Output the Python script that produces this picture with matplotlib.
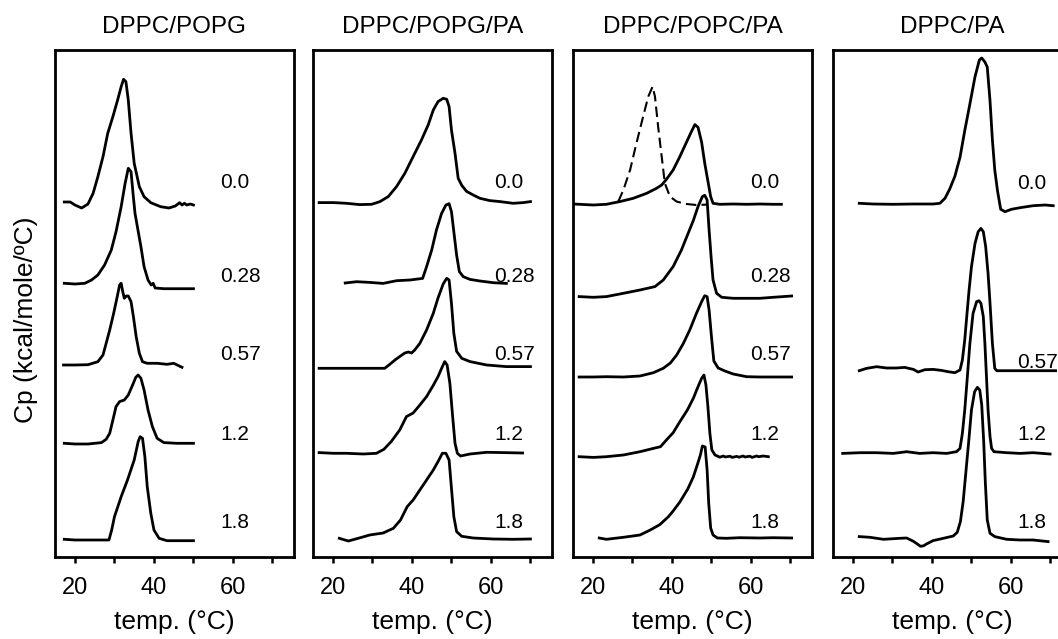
import matplotlib
matplotlib.use("Agg")
import matplotlib.pyplot as plt

plt.rcParams["font.family"] = ["Liberation Sans", "DejaVu Sans"]

TITLES = ["DPPC/POPG", "DPPC/POPG/PA", "DPPC/POPC/PA", "DPPC/PA"]
COMPOSITIONS = ["0.0", "0.28", "0.57", "1.2", "1.8"]
COMPOSITIONS_PA = ["0.0", "0.57", "1.2", "1.8"]

# ---- DPPC/POPG ----
popg_t_00 = [17.3, 18.8, 20.0, 21.7, 23.3, 24.6, 25.8, 27.1, 28.3, 29.6, 30.8, 31.7, 32.3, 32.9, 33.5,
             34.2, 35.0, 36.3, 37.5, 39.2, 41.7, 43.8, 45.4, 46.5, 47.1, 47.7, 48.3, 49.2, 50.0]
popg_cp_00 = [0.3, 0.3, 0.0, -0.3, 0.1, 1.17, 2.83, 4.83, 7.17, 8.83, 10.5, 11.83, 12.57, 12.33, 10.5,
              7.17, 4.17, 1.83, 0.83, 0.23, -0.17, -0.3, -0.1, 0.23, 0.0, 0.17, 0.0, 0.1, 0.0]
popg_t_028 = [17.3, 20.0, 22.5, 24.2, 25.8, 27.5, 29.2, 30.4, 31.7, 32.7, 33.5, 34.2, 34.7, 35.2, 35.8,
              36.7, 37.5, 38.5, 39.3, 39.8, 40.3, 42.5, 46.7, 50.0]
popg_cp_028 = [0.47, 0.4, 0.47, 0.8, 1.3, 2.3, 3.8, 5.63, 8.13, 10.47, 11.97, 11.63, 9.47, 7.47, 6.13,
               4.13, 2.13, 0.8, 0.3, 0.47, 0.0, -0.07, -0.07, -0.07]
popg_t_057 = [17.1, 20.0, 23.3, 25.8, 27.1, 27.9, 28.8, 29.8, 30.7, 31.3, 31.7, 32.1, 32.5, 33.0, 33.5,
              34.2, 34.8, 35.5, 36.3, 37.1, 38.3, 40.8, 43.3, 45.0, 47.1]
popg_cp_057 = [-0.1, -0.1, -0.07, 0.23, 0.9, 2.07, 3.4, 5.07, 6.73, 7.9, 8.07, 7.23, 6.57, 6.8, 6.8,
               6.23, 4.73, 2.73, 1.07, 0.23, 0.07, 0.07, -0.03, 0.07, -0.33]
popg_t_12 = [17.3, 20.0, 23.3, 26.7, 27.9, 28.8, 29.6, 30.4, 31.3, 32.5, 33.5, 34.6, 35.4, 36.0, 36.7,
             37.5, 38.5, 39.6, 40.8, 42.5, 45.8, 50.0]
popg_cp_12 = [0.0, -0.07, -0.07, 0.07, 0.4, 1.0, 2.33, 3.67, 4.17, 4.33, 4.83, 5.83, 6.6, 6.83, 6.5,
              5.33, 3.33, 1.67, 0.5, 0.07, 0.0, 0.0]
popg_t_18 = [17.3, 20.0, 23.3, 26.7, 28.6, 29.3, 30.0, 31.7, 33.3, 35.0, 36.0, 36.5, 37.1, 37.7, 38.3,
             39.2, 40.0, 41.3, 43.3, 50.0]
popg_cp_18 = [0.07, 0.0, 0.0, 0.0, 0.0, 1.0, 2.33, 4.33, 6.0, 8.0, 9.83, 10.33, 10.17, 8.33, 5.33,
              2.67, 1.0, 0.17, -0.07, -0.07]

# ---- DPPC/POPG/PA ----
pgpa_t_00 = [16.5, 20.1, 23.4, 26.8, 29.8, 31.9, 34.0, 36.1, 38.2, 40.3, 42.4, 44.1, 45.4, 46.6, 47.9,
             48.8, 49.4, 50.0, 50.9, 51.7, 52.6, 53.8, 55.5, 57.2, 59.7, 62.3, 65.6, 68.2, 70.0]
pgpa_cp_00 = [0.07, 0.07, 0.0, -0.13, -0.1, 0.17, 0.67, 1.67, 3.0, 4.67, 6.33, 7.83, 9.33, 10.17, 10.5,
              10.4, 9.67, 7.33, 5.0, 2.5, 1.8, 1.2, 0.83, 0.5, 0.27, 0.17, 0.0, 0.07, 0.17]
pgpa_t_028 = [23.1, 26.0, 29.3, 32.7, 36.1, 39.5, 42.7, 43.7, 45.0, 46.2, 47.5, 48.6, 49.4, 50.0, 50.6,
              51.3, 52.0, 53.0, 54.7, 57.2, 60.6, 63.9]
pgpa_cp_028 = [-0.13, 0.0, -0.07, -0.17, 0.1, 0.17, 0.33, 1.5, 3.17, 5.17, 6.83, 7.67, 7.8, 7.0, 5.0,
               2.67, 1.0, 0.5, 0.23, 0.07, -0.1, -0.17]
pgpa_t_057 = [16.5, 23.4, 33.1, 34.4, 35.7, 37.1, 38.2, 39.1, 39.9, 40.7, 42.0, 43.7, 45.4, 46.6, 47.9,
              48.8, 49.4, 50.0, 50.6, 51.3, 52.6, 54.7, 58.9, 63.9, 70.0]
pgpa_cp_057 = [-0.1, -0.1, -0.1, 0.3, 0.73, 1.13, 1.43, 1.53, 1.43, 1.73, 2.4, 3.73, 5.4, 6.93, 8.33,
               8.9, 8.73, 6.4, 3.4, 1.6, 0.9, 0.57, 0.23, 0.07, 0.07]
pgpa_t_12 = [16.5, 20.1, 23.4, 27.7, 31.0, 32.9, 34.8, 36.9, 38.6, 40.3, 42.0, 43.7, 45.4, 46.6, 47.7,
             48.3, 48.9, 49.6, 50.3, 50.9, 51.5, 52.3, 54.7, 58.9, 63.1, 68.0]
pgpa_cp_12 = [0.07, 0.0, 0.0, -0.07, 0.0, 0.4, 1.2, 2.33, 3.67, 4.03, 4.83, 5.67, 6.8, 7.67, 8.67,
              9.17, 8.83, 7.0, 3.67, 1.0, 0.0, -0.27, -0.07, 0.1, 0.07, 0.03]
pgpa_t_18 = [21.6, 23.9, 26.4, 29.3, 32.7, 35.3, 37.1, 38.8, 40.3, 42.0, 43.7, 45.4, 46.6, 47.7, 48.6,
             49.4, 50.0, 50.6, 51.3, 52.6, 55.5, 60.6, 65.6, 70.0]
pgpa_cp_18 = [0.0, -0.27, 0.0, 0.33, 0.53, 1.0, 1.83, 3.17, 3.83, 4.83, 5.83, 6.83, 7.67, 8.5, 8.5,
              7.83, 5.0, 2.17, 0.67, 0.2, 0.03, -0.07, -0.1, -0.07]

# ---- DPPC/POPC/PA ----
pcpa_t_00 = [15.0, 20.1, 23.4, 26.8, 30.2, 33.6, 36.1, 37.4, 38.6, 40.3, 42.0, 43.7, 45.0, 45.8, 46.6,
             47.5, 48.3, 49.2, 49.8, 50.4, 52.1, 55.5, 58.9, 62.3, 65.6, 67.7]
pcpa_cp_00 = [0.03, -0.07, 0.0, 0.27, 0.6, 1.1, 1.6, 1.93, 2.5, 3.43, 4.77, 6.23, 7.33, 7.97, 7.7,
              6.23, 4.1, 2.1, 0.77, 0.1, 0.0, 0.03, 0.0, 0.03, 0.0, 0.0]
# dashed reference scan drawn on the 0.0 baseline
pcpa_t_ref = [26.4, 27.7, 29.4, 31.0, 32.7, 34.0, 35.1, 35.7, 36.5, 37.4, 38.2, 39.5, 41.2, 43.7, 46.2, 48.8]
pcpa_cp_ref = [0.27, 1.43, 3.43, 6.1, 8.77, 10.77, 11.77, 10.77, 7.77, 4.77, 2.1, 0.77, 0.27, 0.03, -0.07, -0.03]
pcpa_t_028 = [16.5, 20.1, 23.4, 27.7, 31.9, 35.7, 37.8, 40.3, 42.4, 44.1, 45.4, 46.6, 47.7, 48.3, 48.9,
              49.4, 49.9, 50.4, 51.3, 52.6, 55.5, 62.3, 65.6, 70.3]
pcpa_cp_028 = [0.07, 0.0, 0.07, 0.4, 0.73, 1.07, 1.73, 3.07, 4.73, 6.4, 7.67, 9.07, 10.07, 10.2, 9.73,
               6.73, 4.07, 1.73, 0.4, 0.0, -0.1, -0.1, 0.0, 0.13]
pcpa_t_057 = [16.5, 20.1, 23.4, 27.7, 31.9, 35.3, 37.8, 39.6, 41.2, 42.9, 44.5, 46.2, 47.5, 48.3, 48.9,
              49.4, 50.0, 50.6, 51.7, 53.4, 55.5, 58.9, 62.3, 70.3]
pcpa_cp_057 = [0.0, 0.0, 0.03, 0.0, 0.1, 0.43, 0.87, 1.4, 2.2, 3.37, 4.7, 6.37, 7.53, 8.13, 8.03,
               6.7, 4.03, 1.6, 0.9, 0.6, 0.3, 0.03, 0.0, 0.0]
pcpa_t_12 = [16.5, 20.1, 23.4, 27.7, 31.9, 35.3, 37.1, 38.6, 40.3, 42.0, 43.9, 45.4, 46.6, 47.5, 48.1,
             48.6, 49.1, 49.6, 50.1, 50.9, 51.6, 52.1, 53.0, 53.5, 54.7, 55.2, 56.4, 57.0, 58.0, 58.5,
             59.7, 60.3, 61.4, 62.0, 63.1, 64.4]
pcpa_cp_12 = [0.0, -0.07, 0.0, 0.17, 0.5, 0.83, 1.0, 1.67, 2.4, 3.5, 4.67, 5.83, 7.0, 7.83, 8.17,
              7.17, 5.0, 2.33, 0.67, 0.17, 0.05, -0.05, 0.07, -0.03, 0.05, -0.07, 0.03, -0.05, 0.07, -0.03,
              0.05, -0.07, 0.07, 0.0, 0.07, 0.0]
pcpa_t_18 = [21.6, 23.4, 27.7, 31.9, 34.5, 36.9, 39.1, 40.3, 42.0, 44.0, 45.4, 46.4, 47.2, 47.7, 48.4,
             48.9, 49.3, 49.8, 50.4, 51.5, 53.8, 57.2, 62.3, 65.6, 70.3]
pcpa_cp_18 = [0.0, -0.13, 0.07, 0.3, 0.8, 1.33, 2.13, 2.7, 3.6, 4.9, 6.1, 7.3, 8.3, 9.2, 9.1,
              6.8, 3.5, 1.0, 0.3, 0.0, -0.03, 0.03, 0.0, 0.03, 0.0]

# ---- DPPC/PA ----
pa_t_00 = [21.6, 25.1, 30.2, 35.3, 40.3, 42.0, 43.3, 44.5, 45.8, 47.1, 48.3, 49.6, 50.9, 52.0, 52.6,
           53.4, 54.0, 54.7, 55.3, 55.9, 56.6, 57.4, 58.5, 60.1, 62.3, 65.6, 68.6, 70.7]
pa_cp_00 = [0.07, 0.0, -0.03, 0.0, 0.0, 0.07, 0.57, 1.5, 2.77, 4.67, 7.33, 10.0, 12.73, 14.4, 14.6,
            14.2, 13.7, 10.3, 6.4, 3.4, 1.3, -0.53, -0.77, -0.53, -0.37, -0.17, -0.1, -0.17]
pa_t_057 = [21.6, 23.4, 26.0, 28.5, 31.0, 33.1, 35.3, 36.5, 38.2, 40.3, 42.4, 44.1, 45.8, 47.1, 47.7,
            48.3, 48.8, 49.4, 50.0, 50.9, 51.7, 52.4, 53.0, 53.6, 54.2, 54.7, 55.3, 55.9, 56.4, 71.3]
pa_cp_057 = [0.0, 0.23, 0.4, 0.27, 0.27, 0.33, 0.13, -0.13, 0.1, 0.13, 0.03, -0.1, -0.2, 0.07, 1.07,
             3.07, 5.4, 8.07, 10.4, 12.73, 13.9, 14.23, 13.9, 12.4, 9.73, 6.73, 2.73, 0.23, 0.0, 0.0]
pa_t_12 = [17.4, 21.8, 26.0, 30.2, 33.6, 36.9, 40.3, 43.7, 46.2, 47.1, 47.7, 48.3, 48.9, 49.6, 50.4,
           51.3, 51.9, 52.4, 53.0, 53.4, 53.8, 54.2, 54.7, 55.1, 55.7, 58.9, 62.3, 65.6, 69.9]
pa_cp_12 = [-0.07, 0.0, 0.0, -0.07, 0.1, -0.07, 0.0, -0.07, 0.1, 0.43, 1.93, 4.27, 7.27, 10.93, 13.93,
            15.1, 15.2, 14.93, 13.6, 10.93, 7.6, 4.27, 1.6, 0.43, 0.1, 0.0, -0.07, 0.0, -0.13]
pa_t_18 = [21.6, 24.3, 27.7, 31.9, 33.6, 35.3, 36.4, 37.1, 37.9, 38.6, 40.3, 42.9, 45.4, 46.4, 47.2,
           47.9, 48.6, 49.3, 50.0, 50.8, 51.5, 52.1, 52.6, 53.1, 53.5, 54.0, 54.7, 55.9, 58.9, 62.3,
           65.6, 69.4]
pa_cp_18 = [0.17, 0.1, -0.1, 0.0, 0.03, -0.3, -0.6, -0.8, -0.75, -0.57, -0.23, 0.0, 0.23, 0.6, 1.67,
            3.67, 6.67, 9.67, 12.83, 14.67, 15.1, 14.83, 13.33, 9.67, 5.67, 1.83, 0.5, 0.17, -0.1, -0.17,
            -0.17, -0.33]

# ---- layout: vertical stacking offsets and label placement ----
OFFSETS = [
    [35.2, 26.9, 19.3, 11.37, 1.7],
    [35.37, 27.53, 18.97, 10.37, 1.87],
    [35.27, 25.97, 18.0, 10.03, 1.9],
    [35.3, 18.63, 10.43, 1.87],
]
LABEL_X = [56.8, 60.8, 59.9, 61.6]
LABEL_Y = [
    [36.85, 27.55, 19.65, 11.75, 2.87],
    [36.85, 27.55, 19.65, 11.75, 2.87],
    [36.85, 27.55, 19.65, 11.75, 2.87],
    [36.8, 18.87, 11.75, 2.87],
]

panels = [
    [(popg_t_00, popg_cp_00), (popg_t_028, popg_cp_028), (popg_t_057, popg_cp_057),
     (popg_t_12, popg_cp_12), (popg_t_18, popg_cp_18)],
    [(pgpa_t_00, pgpa_cp_00), (pgpa_t_028, pgpa_cp_028), (pgpa_t_057, pgpa_cp_057),
     (pgpa_t_12, pgpa_cp_12), (pgpa_t_18, pgpa_cp_18)],
    [(pcpa_t_00, pcpa_cp_00), (pcpa_t_028, pcpa_cp_028), (pcpa_t_057, pcpa_cp_057),
     (pcpa_t_12, pcpa_cp_12), (pcpa_t_18, pcpa_cp_18)],
    [(pa_t_00, pa_cp_00), (pa_t_057, pa_cp_057), (pa_t_12, pa_cp_12), (pa_t_18, pa_cp_18)],
]
labels = [COMPOSITIONS, COMPOSITIONS, COMPOSITIONS, COMPOSITIONS_PA]

W, H = 1058, 639
fig = plt.figure(figsize=(W / 100, H / 100), dpi=100)
lefts = [55, 313, 573, 833]

for i, curves in enumerate(panels):
    ax = fig.add_axes([lefts[i] / W, (H - 557) / H, 239 / W, 507 / H])
    for j, (t, cp) in enumerate(curves):
        ax.plot(t, [c + OFFSETS[i][j] for c in cp], color="black", lw=2.0)
        ax.text(LABEL_X[i], LABEL_Y[i][j], labels[i][j], fontsize=15, va="baseline", ha="left")
    if i == 2:
        ax.plot(pcpa_t_ref, [c + OFFSETS[2][0] for c in pcpa_cp_ref], color="black",
                lw=1.5, linestyle=(0, (5, 2.5)))
    ax.set_xlim(14.95, 75.45)
    ax.set_ylim(0, 50.7)
    ax.set_xticks([20, 30, 40, 50, 60, 70])
    ax.set_xticklabels(["20", "", "40", "", "60", ""])
    ax.tick_params(axis="x", direction="out", length=4.5, width=1.8, labelsize=17, pad=10)
    ax.set_yticks([])
    for s in ax.spines.values():
        s.set_linewidth(2.0)
    ax.set_title(TITLES[i], fontsize=17.5, pad=12.5)
    ax.set_xlabel("temp. (°C)", fontsize=19, labelpad=8)

fig.text(26 / W, 0.5, "Cp (kcal/mole/ºC)", rotation=90, fontsize=19, ha="center", va="center")

fig.savefig("out.png", dpi=100)
